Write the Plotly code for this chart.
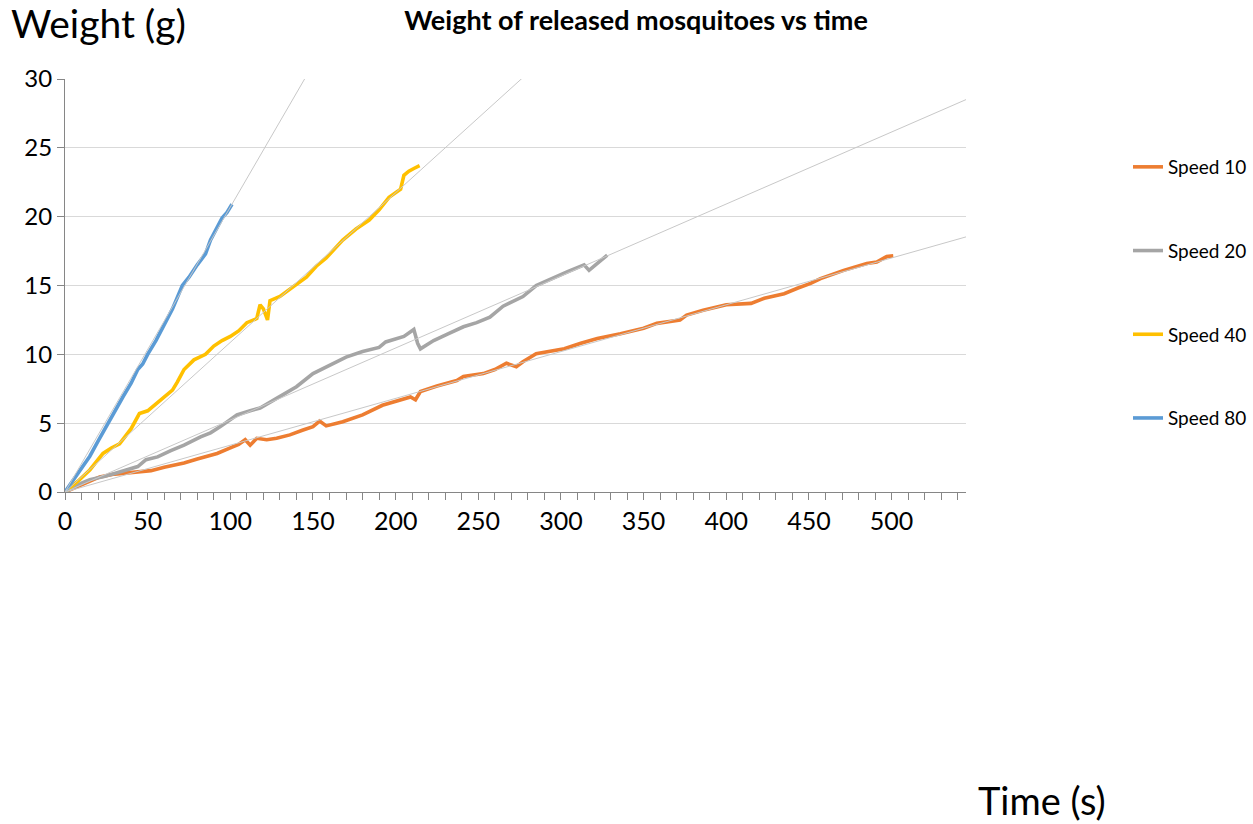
import plotly.graph_objects as go

# ---- data ----
t10 = [0, 10, 21, 30, 45, 52, 60, 72, 80, 92, 100, 105, 109, 112, 116, 122, 128, 136, 144, 150,
       154, 158, 168, 180, 192, 201, 209, 212, 215, 225, 237, 241, 253, 260, 267, 273, 277, 285,
       294, 302, 312, 322, 336, 350, 358, 372, 376, 386, 400, 415, 423, 435, 443, 451, 457, 471,
       485, 491, 497, 501]
w10 = [0, 0.55, 1.1, 1.3, 1.5, 1.55, 1.8, 2.1, 2.4, 2.8, 3.2, 3.45, 3.8, 3.4, 3.9, 3.8, 3.9, 4.15,
       4.5, 4.75, 5.15, 4.8, 5.1, 5.6, 6.3, 6.6, 6.9, 6.7, 7.3, 7.7, 8.1, 8.4, 8.6, 8.9, 9.35, 9.1,
       9.46, 10.05, 10.2, 10.4, 10.8, 11.15, 11.5, 11.9, 12.25, 12.5, 12.85, 13.2, 13.6, 13.7,
       14.07, 14.4, 14.8, 15.15, 15.5, 16.1, 16.6, 16.7, 17.1, 17.15]

t20 = [0, 5, 10, 15, 23, 30, 38, 44, 49, 56, 64, 72, 82, 88, 94, 104, 112, 118, 128, 134, 140,
       150, 160, 170, 180, 190, 194, 200, 205, 211, 213.3, 215, 223, 232, 241, 249, 257, 265, 272,
       277, 285, 294, 304, 314, 317, 322, 328]
w20 = [0, 0.35, 0.65, 0.9, 1.1, 1.35, 1.6, 1.85, 2.35, 2.55, 3.0, 3.4, 4.0, 4.3, 4.75, 5.6, 5.9,
       6.1, 6.8, 7.2, 7.65, 8.6, 9.2, 9.8, 10.2, 10.5, 10.9, 11.1, 11.3, 11.8, 10.8, 10.4, 11.0,
       11.5, 12.0, 12.3, 12.7, 13.5, 13.9, 14.2, 15.0, 15.5, 16.0, 16.5, 16.1, 16.6, 17.2]

t40 = [0, 8, 15, 23, 28, 33, 40, 45, 50, 55, 60, 65, 68, 72, 78, 85, 90, 95, 100, 105, 110, 116,
       118, 120, 122.5, 124, 130, 138, 146, 152, 158, 168, 176, 184, 190, 196, 203, 205, 208, 211,
       214.5]
w40 = [0, 0.8, 1.6, 2.8, 3.2, 3.5, 4.6, 5.7, 5.9, 6.4, 6.9, 7.4, 8.0, 8.9, 9.6, 10.0, 10.6, 11.0,
       11.3, 11.7, 12.3, 12.6, 13.6, 13.3, 12.5, 13.9, 14.2, 14.9, 15.6, 16.4, 17.0, 18.3, 19.1,
       19.75, 20.5, 21.4, 22.0, 23.0, 23.3, 23.5, 23.7]

t80 = [0, 5, 10, 15, 20, 26, 30, 35, 40, 44, 47, 50, 55, 60, 65, 71, 75, 80, 85, 88, 91, 95, 98, 101]
w80 = [0, 0.9, 1.7, 2.6, 3.7, 5.0, 5.9, 6.9, 7.9, 8.9, 9.3, 10.0, 11.0, 12.2, 13.3, 15.0, 15.6,
       16.5, 17.3, 18.3, 19.0, 19.9, 20.3, 20.9]

series_names = ["Speed 10", "Speed 20", "Speed 40", "Speed 80"]
series_colors = ["#ED7D31", "#A5A5A5", "#FFC000", "#5B9BD5"]
# linear trendline slopes (through origin)
trend_slopes = [0.0340, 0.0523, 0.1087, 0.2070]
x_ticks = [0, 50, 100, 150, 200, 250, 300, 350, 400, 450, 500]
y_ticks = [0, 5, 10, 15, 20, 25, 30]
x_max = 545

FONT = "Lato"
fig = go.Figure()
data = [(t10, w10), (t20, w20), (t40, w40), (t80, w80)]

for (t, w), name, col in zip(data, series_names, series_colors):
    fig.add_trace(go.Scatter(x=t, y=w, mode="lines", name=name,
                             line=dict(color=col, width=3.6), legendgroup=name,
                             showlegend=True))

# linear trendlines through origin, drawn on top
for slope in trend_slopes:
    fig.add_trace(go.Scatter(x=[0, x_max], y=[0, slope * x_max], mode="lines",
                             line=dict(color="#C8C8C8", width=1), showlegend=False,
                             hoverinfo="skip"))

fig.update_layout(
    width=1253, height=824,
    margin=dict(l=65, r=287, t=79, b=332),
    paper_bgcolor="white", plot_bgcolor="white",
    font=dict(family=FONT, color="#000000"),
    title=dict(text="<b>Weight of released mosquitoes vs time</b>", xref="container",
               x=636 / 1253, xanchor="center", yref="container", y=1 - 21 / 824,
               yanchor="middle", font=dict(family=FONT, size=27, color="#000")),
    showlegend=True,
    legend=dict(x=1128 / 1253, xref="container", xanchor="left", y=1 - 148 / 824,
                yref="container", yanchor="top", tracegroupgap=56,
                font=dict(family=FONT, size=19, color="#000"), traceorder="grouped",
                bgcolor="rgba(0,0,0,0)"),
    xaxis=dict(range=[0, x_max], tickmode="array", tickvals=x_ticks,
               ticktext=[str(v) for v in x_ticks], showgrid=False, zeroline=False,
               showline=True, linecolor="#868686", linewidth=1, ticks="outside",
               ticklen=7, tickcolor="#868686",
               minor=dict(dtick=10, tick0=0, ticks="outside", ticklen=7, tickcolor="#868686",
                          showgrid=False),
               tickfont=dict(family=FONT, size=25, color="#000")),
    yaxis=dict(range=[0, 30], tickmode="array", tickvals=y_ticks, showgrid=True,
               gridcolor="#D9D9D9", gridwidth=1, zeroline=False, showline=True,
               linecolor="#868686", linewidth=1, ticks="outside", ticklen=7,
               tickcolor="#868686", tickfont=dict(family=FONT, size=24, color="#000")),
)
fig.add_annotation(text="Weight (g)", xref="paper", yref="paper",
                   x=(9 - 65) / (966 - 65), y=(492 - 23) / (492 - 79),
                   xanchor="left", yanchor="middle", showarrow=False,
                   font=dict(family=FONT, size=39, color="#000"))
fig.add_annotation(text="Time (s)", xref="paper", yref="paper",
                   x=(976 - 65) / (966 - 65), y=(492 - 800) / (492 - 79),
                   xanchor="left", yanchor="middle", showarrow=False,
                   font=dict(family=FONT, size=38, color="#000"))

fig.write_html("out.html")
